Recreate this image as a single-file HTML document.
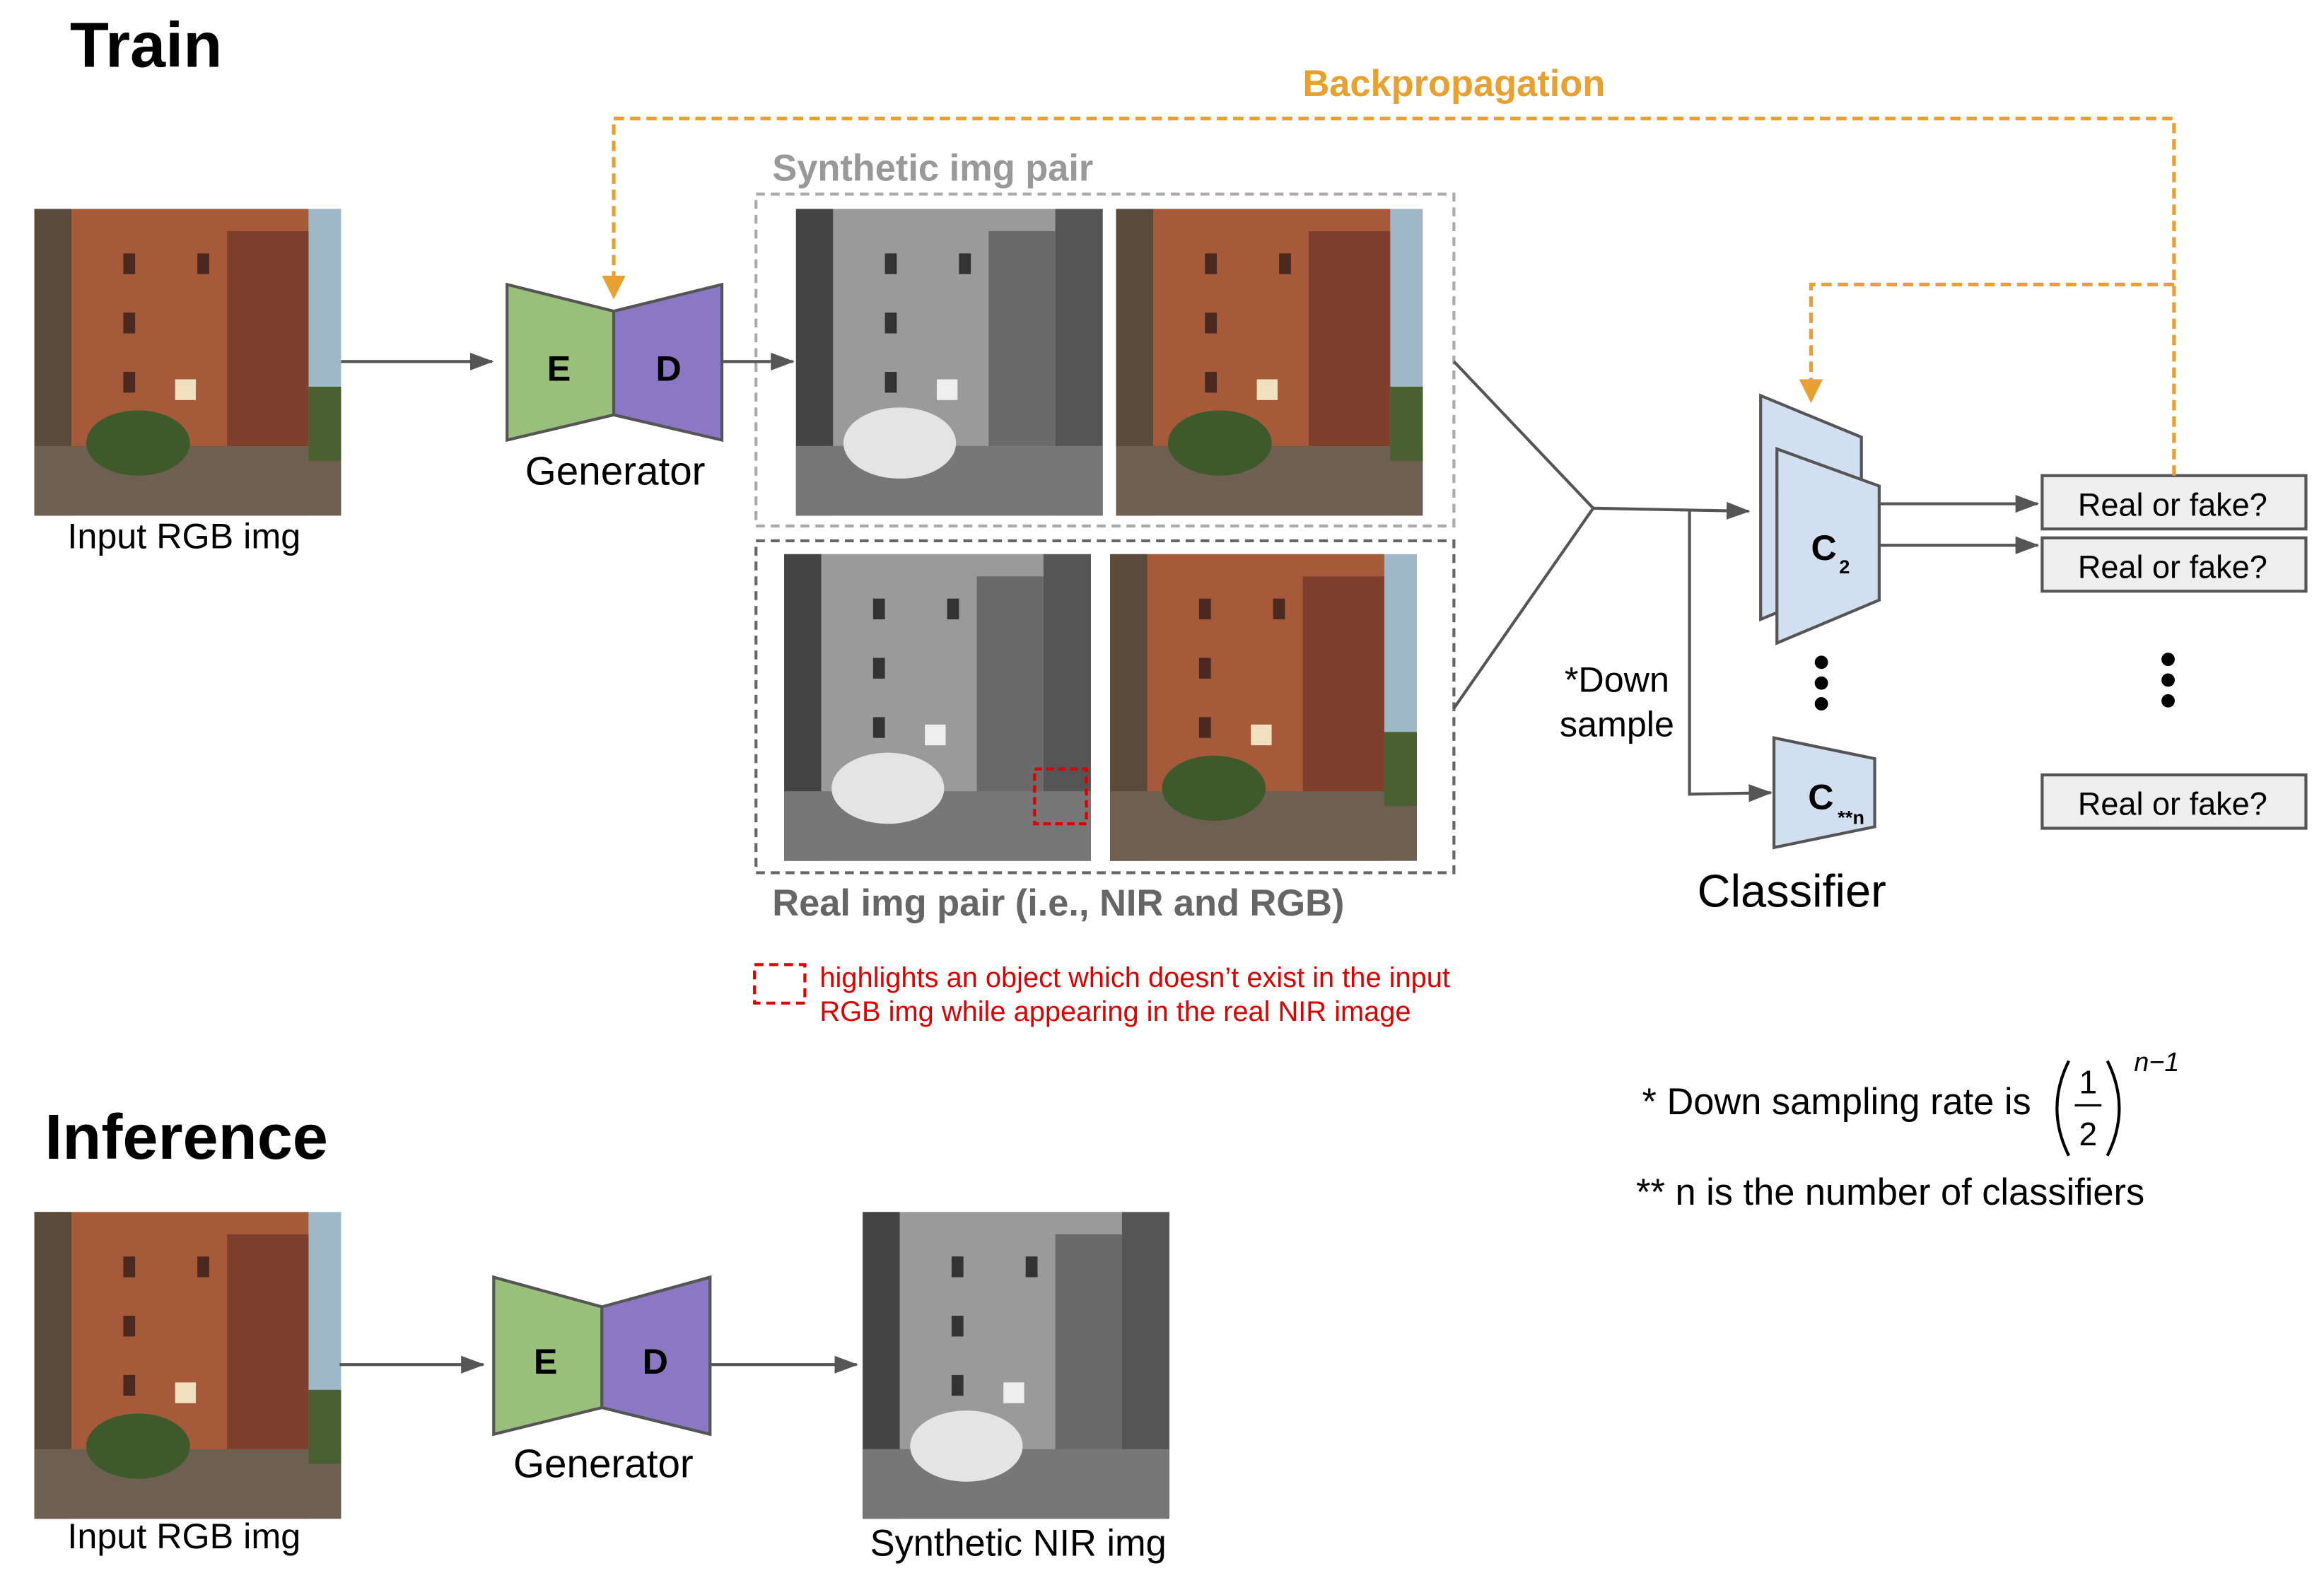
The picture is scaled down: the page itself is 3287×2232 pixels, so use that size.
<!DOCTYPE html>
<html><head><meta charset="utf-8"><style>
html,body{margin:0;padding:0;background:#fff}
svg{display:block}
text{font-family:"Liberation Sans",Arial,sans-serif}
</style></head><body>
<svg width="3287" height="2232" viewBox="0 0 1568 1065" xmlns="http://www.w3.org/2000/svg">
<defs>
<marker id="ar" markerWidth="16" markerHeight="12" refX="15" refY="6" orient="auto" markerUnits="userSpaceOnUse" viewBox="0 0 16 12"><path d="M0,0 L16,6 L0,12 z" fill="#555"/></marker>
<marker id="ao" markerWidth="16" markerHeight="16" refX="8" refY="14" orient="0" markerUnits="userSpaceOnUse" viewBox="0 0 16 16"><path d="M0,0 L16,0 L8,16 z" fill="#e8a030"/></marker>
<g id="rgb">
<rect width="207" height="207" fill="#9fb8c8"/>
<rect x="0" y="0" width="185" height="207" fill="#a65a3a"/>
<rect x="130" y="15" width="55" height="160" fill="#7e3f2c"/>
<rect x="0" y="0" width="25" height="207" fill="#5a4a3a"/>
<rect x="60" y="30" width="8" height="14" fill="#4a2a20"/><rect x="110" y="30" width="8" height="14" fill="#4a2a20"/>
<rect x="60" y="70" width="8" height="14" fill="#4a2a20"/><rect x="60" y="110" width="8" height="14" fill="#4a2a20"/>
<rect x="95" y="115" width="14" height="14" fill="#f0e0c0"/>
<rect x="0" y="160" width="207" height="47" fill="#6e6050"/>
<ellipse cx="70" cy="158" rx="35" ry="22" fill="#3f5a2a"/>
<rect x="185" y="120" width="22" height="50" fill="#4a6030"/>
</g>
<g id="nir">
<rect width="207" height="207" fill="#aaa"/>
<rect x="0" y="0" width="175" height="207" fill="#9a9a9a"/>
<rect x="130" y="15" width="45" height="160" fill="#6a6a6a"/>
<rect x="175" y="0" width="32" height="207" fill="#555"/>
<rect x="0" y="0" width="25" height="207" fill="#444"/>
<rect x="60" y="30" width="8" height="14" fill="#333"/><rect x="110" y="30" width="8" height="14" fill="#333"/>
<rect x="60" y="70" width="8" height="14" fill="#333"/><rect x="60" y="110" width="8" height="14" fill="#333"/>
<rect x="95" y="115" width="14" height="14" fill="#eee"/>
<rect x="0" y="160" width="207" height="47" fill="#777"/>
<ellipse cx="70" cy="158" rx="38" ry="24" fill="#e4e4e4"/>
</g>
</defs>

<text x="47" y="45" font-size="43" font-weight="bold">Train</text>
<use href="#rgb" x="23" y="141"/>
<text x="124" y="370" font-size="24" text-anchor="middle">Input RGB img</text>
<line x1="230" y1="244" x2="332" y2="244" stroke="#555" stroke-width="2" marker-end="url(#ar)"/>
<polygon points="342,192 414,210 414,280 342,297" fill="#98c07a" stroke="#555" stroke-width="2"/>
<polygon points="414,210 487,192 487,297 414,280" fill="#8a78c4" stroke="#555" stroke-width="2"/>
<text x="377" y="257" font-size="24" font-weight="bold" text-anchor="middle">E</text>
<text x="451" y="257" font-size="24" font-weight="bold" text-anchor="middle">D</text>
<text x="415" y="327" font-size="27" text-anchor="middle">Generator</text>
<line x1="487" y1="244" x2="535" y2="244" stroke="#555" stroke-width="2" marker-end="url(#ar)"/>

<text x="521" y="122" font-size="25" font-weight="bold" fill="#999">Synthetic img pair</text>
<rect x="510" y="131" width="471" height="224" fill="none" stroke="#aaa" stroke-width="2" stroke-dasharray="6,4"/>
<use href="#nir" x="537" y="141"/>
<use href="#rgb" x="753" y="141"/>
<rect x="510" y="365" width="471" height="224" fill="none" stroke="#666" stroke-width="2" stroke-dasharray="6,4"/>
<use href="#nir" x="529" y="374"/>
<use href="#rgb" x="749" y="374"/>
<rect x="698" y="519" width="35" height="37" fill="none" stroke="#d00" stroke-width="2" stroke-dasharray="5,3"/>
<text x="521" y="618" font-size="25" font-weight="bold" fill="#666">Real img pair (i.e., NIR and RGB)</text>
<rect x="509" y="651" width="34" height="26" fill="none" stroke="#d00" stroke-width="2" stroke-dasharray="6,4"/>
<text x="553" y="666" font-size="19" fill="#d00">highlights an object which doesn’t exist in the input</text>
<text x="553" y="689" font-size="19" fill="#d00">RGB img while appearing in the real NIR image</text>

<polyline points="981,244 1075,343 981,478" fill="none" stroke="#555" stroke-width="2"/>
<line x1="1075" y1="343" x2="1180" y2="345" stroke="#555" stroke-width="2" marker-end="url(#ar)"/>
<polyline points="1140,345 1140,536 1195,535" fill="none" stroke="#555" stroke-width="2" marker-end="url(#ar)"/>
<text x="1091" y="467" font-size="24" text-anchor="middle">*Down</text>
<text x="1091" y="497" font-size="24" text-anchor="middle">sample</text>

<polygon points="1188,267 1256,295 1256,390 1188,418" fill="#d2dff0" stroke="#555" stroke-width="2"/>
<polygon points="1199,303 1268,328 1268,405 1199,434" fill="#d2dff0" stroke="#555" stroke-width="2"/>
<text x="1222" y="378" font-size="24" font-weight="bold">C</text><text x="1241" y="387" font-size="13" font-weight="bold">2</text>
<polygon points="1197,498 1265,512 1265,558 1197,572" fill="#d2dff0" stroke="#555" stroke-width="2"/>
<text x="1220" y="546" font-size="24" font-weight="bold">C</text><text x="1240" y="556" font-size="13" font-weight="bold">**n</text>
<circle cx="1229" cy="447" r="4.5"/><circle cx="1229" cy="461" r="4.5"/><circle cx="1229" cy="475" r="4.5"/>
<circle cx="1463" cy="445" r="4.5"/><circle cx="1463" cy="459" r="4.5"/><circle cx="1463" cy="473" r="4.5"/>
<text x="1209" y="612" font-size="31" text-anchor="middle">Classifier</text>
<line x1="1268" y1="340" x2="1375" y2="340" stroke="#555" stroke-width="2" marker-end="url(#ar)"/>
<line x1="1268" y1="368" x2="1375" y2="368" stroke="#555" stroke-width="2" marker-end="url(#ar)"/>
<rect x="1378" y="321" width="178" height="36" fill="#eee" stroke="#555" stroke-width="2"/>
<rect x="1378" y="363" width="178" height="36" fill="#eee" stroke="#555" stroke-width="2"/>
<rect x="1378" y="523" width="178" height="36" fill="#eee" stroke="#555" stroke-width="2"/>
<text x="1466" y="348" font-size="21.5" text-anchor="middle">Real or fake?</text>
<text x="1466" y="390" font-size="21.5" text-anchor="middle">Real or fake?</text>
<text x="1466" y="550" font-size="21.5" text-anchor="middle">Real or fake?</text>

<polyline points="1467,321 1467,80 414,80 414,200" fill="none" stroke="#e8a030" stroke-width="2.5" stroke-dasharray="7,4" marker-end="url(#ao)"/>
<polyline points="1467,192 1222,192 1222,270" fill="none" stroke="#e8a030" stroke-width="2.5" stroke-dasharray="7,4" marker-end="url(#ao)"/>
<text x="981" y="65" font-size="25" font-weight="bold" fill="#e8a030" text-anchor="middle">Backpropagation</text>

<text x="1108" y="752" font-size="25">* Down sampling rate is</text>
<path d="M1396,716 Q1380,748 1396,780" fill="none" stroke="#000" stroke-width="2"/>
<path d="M1422,716 Q1438,748 1422,780" fill="none" stroke="#000" stroke-width="2"/>
<text x="1409" y="738" font-size="22" text-anchor="middle" font-family="Liberation Serif">1</text>
<line x1="1400" y1="746" x2="1418" y2="746" stroke="#000" stroke-width="1.5"/>
<text x="1409" y="773" font-size="22" text-anchor="middle" font-family="Liberation Serif">2</text>
<text x="1440" y="723" font-size="18" font-style="italic" font-family="Liberation Serif">n−1</text>
<text x="1104" y="813" font-size="25">** n is the number of classifiers</text>

<text x="30" y="782" font-size="43" font-weight="bold">Inference</text>
<use href="#rgb" x="23" y="818"/>
<text x="124" y="1045" font-size="24" text-anchor="middle">Input RGB img</text>
<line x1="229" y1="921" x2="326" y2="921" stroke="#555" stroke-width="2" marker-end="url(#ar)"/>
<polygon points="333,862 406,882 406,950 333,968" fill="#98c07a" stroke="#555" stroke-width="2"/>
<polygon points="406,882 479,862 479,968 406,950" fill="#8a78c4" stroke="#555" stroke-width="2"/>
<text x="368" y="927" font-size="24" font-weight="bold" text-anchor="middle">E</text>
<text x="442" y="927" font-size="24" font-weight="bold" text-anchor="middle">D</text>
<text x="407" y="997" font-size="27" text-anchor="middle">Generator</text>
<line x1="479" y1="921" x2="578" y2="921" stroke="#555" stroke-width="2" marker-end="url(#ar)"/>
<use href="#nir" x="582" y="818"/>
<text x="687" y="1050" font-size="25" text-anchor="middle">Synthetic NIR img</text>
</svg>
</body></html>
